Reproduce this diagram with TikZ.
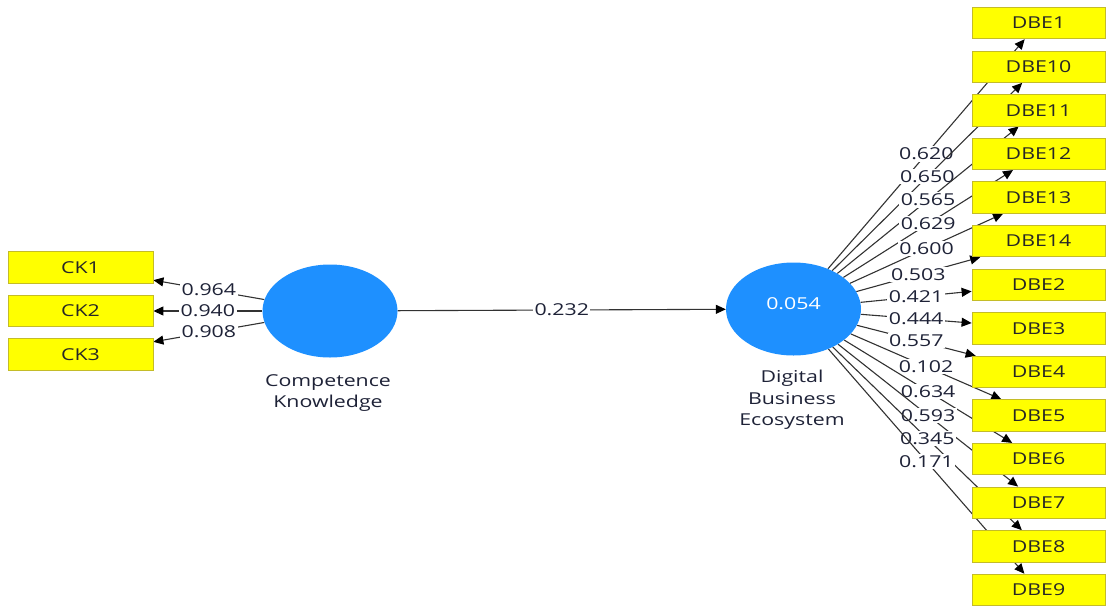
\documentclass[tikz,border=0pt]{standalone}
\usepackage{fontspec}
\newfontfamily\plsfont[FakeStretch=1.3]{Open Sans}
\usetikzlibrary{shapes.geometric,arrows.meta,backgrounds}
\definecolor{lvblue}{RGB}{30,144,255}
\definecolor{mvyellow}{RGB}{255,255,0}
\definecolor{mvborder}{RGB}{196,188,40}
\definecolor{edgegray}{RGB}{50,50,50}
\definecolor{inktext}{RGB}{30,34,55}
\begin{document}
\begin{tikzpicture}[x=1pt,y=-1pt,
  every node/.style={font=\plsfont\fontsize{16.4}{21.5}\selectfont, text=inktext},
  latent/.style={ellipse, fill=lvblue, minimum width=135pt, minimum height=93pt, inner sep=0pt},
  indicator/.style={rectangle, fill=mvyellow, draw=mvborder, line width=0.8pt,
    minimum height=31.5pt, inner sep=0pt, text=black!85},
  ckbox/.style={indicator, minimum width=145pt},
  dbebox/.style={indicator, minimum width=133pt},
  link/.style={draw=edgegray, line width=1.1pt,
    -{Triangle[length=10pt,width=9pt,color=black]}},
  coef/.style={midway, fill=white, inner sep=1.5pt},
]
\useasboundingbox (0,0) rectangle (1108,605);

% latent variables
\node[latent] (ck) at (330,311) {};
\node[latent] (dbe) at (793.5,309) {};
\node[text=white] (r2) at (793.5,304) {0.054};
\node[align=center] (ckname) at (328,393) {Competence\\Knowledge};
\node[align=center] (dbename) at (792,400) {Digital\\Business\\Ecosystem};

% indicators of Competence Knowledge
\node[ckbox] (ck1) at (80.5,267.5) {CK1};
\node[ckbox] (ck2) at (80.5,311) {CK2};
\node[ckbox] (ck3) at (80.5,354.5) {CK3};

% indicators of Digital Business Ecosystem
\foreach \nm [count=\i from 0] in {1,10,11,12,13,14,2,3,4,5,6,7,8,9}
  \node[dbebox] (dbe\nm) at (1038.5,23.1+43.6*\i) {DBE\nm};

% paths and outer loadings
\begin{scope}[on background layer]
  \draw[link] (ck) -- node[coef]{0.232} (dbe);
  \draw[link] (ck) -- node[coef]{0.964} (ck1);
  \draw[link] (ck) -- node[coef]{0.940} (ck2);
  \draw[link] (ck) -- node[coef]{0.908} (ck3);
  \foreach \nm/\w in {1/0.620,10/0.650,11/0.565,12/0.629,13/0.600,14/0.503,
      2/0.421,3/0.444,4/0.557,5/0.102,6/0.634,7/0.593,8/0.345,9/0.171}
    \draw[link] (dbe) -- node[coef]{\w} (dbe\nm);
\end{scope}
\end{tikzpicture}
\end{document}
